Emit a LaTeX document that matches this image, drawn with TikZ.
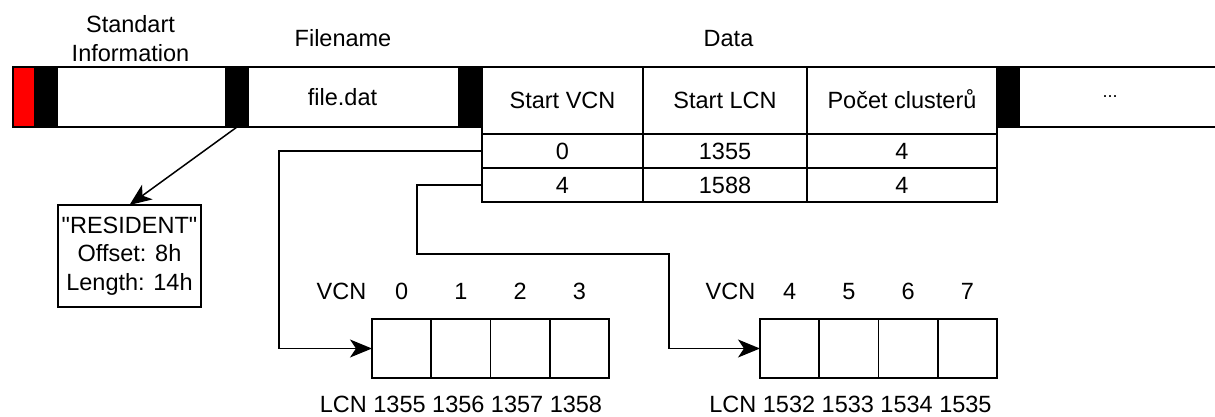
\documentclass[tikz,border=0pt]{standalone}
\usepackage{fontspec}
\setmainfont{Liberation Sans}[Ligatures=TeXOff]
\usetikzlibrary{arrows.meta}
\begin{document}
\begin{tikzpicture}[x=1pt,y=-1pt,
  every node/.style={inner sep=0pt, outer sep=0pt, font=\fontsize{23.5}{28.5}\selectfont},
  seg/.style={draw, line width=1.5pt, fill=white, minimum height=60pt},
  hdr/.style={draw, line width=1.5pt, fill=black, minimum width=22pt, minimum height=60pt},
  cell/.style={draw, line width=1.5pt, fill=white, text height=16.9pt, text depth=0pt},
  blockcell/.style={draw, line width=1.5pt, minimum width=59.25pt, minimum height=59pt},
  lbl/.style={anchor=base},
  conn/.style={line width=1.5pt},
  arr/.style={conn, -{Stealth[length=22pt,width=18pt,inset=6pt]}},
]
\useasboundingbox (0,0) rectangle (1215,417);

% record bar
\node[seg, fill=red, minimum width=22pt] (rec) at (24,97) {};
\node[seg, minimum width=191pt] (si) at (130.5,97) {};
\node[hdr] (sih) at (46,97) {};
\node[seg, minimum width=233pt] (fn) at (342.5,97) {file.dat};
\node[hdr] (fnh) at (237,97) {};
\node[seg, minimum width=226pt] (more) at (1110,97) {\fontsize{18}{20}\selectfont ...};
\node[hdr] (dah) at (470.5,97) {};
\node[hdr] (moreh) at (1008,97) {};

% labels above
\node[align=center] (lsi) at (130.5,38.5) {Standart\\Information};
\node[lbl] (lfn) at (343,47) {Filename};
\node[lbl] (lda) at (728.5,47) {Data};

% data run table
\node[cell, minimum width=161pt, minimum height=67pt] (h1) at (562.5,100.5) {Start VCN};
\node[cell, minimum width=164pt, minimum height=67pt] (h2) at (725,100.5) {Start LCN};
\node[cell, minimum width=190pt, minimum height=67pt] (h3) at (902,100.5) {Počet clusterů};
\node[cell, minimum width=161pt, minimum height=34pt] (r1a) at (562.5,151) {0};
\node[cell, minimum width=164pt, minimum height=34pt] (r1b) at (725,151) {1355};
\node[cell, minimum width=190pt, minimum height=34pt] (r1c) at (902,151) {4};
\node[cell, minimum width=161pt, minimum height=34pt] (r2a) at (562.5,185) {4};
\node[cell, minimum width=164pt, minimum height=34pt] (r2b) at (725,185) {1588};
\node[cell, minimum width=190pt, minimum height=34pt] (r2c) at (902,185) {4};

% resident box
\node[draw, line width=1.5pt, minimum width=143pt, minimum height=102pt, align=center] (res) at (129.5,256) {"RESIDENT"\\Offset: 8h\\Length: 14h};

% cluster blocks
\node[blockcell] (c10) at (401.6,348.5) {};
\node[blockcell] (c11) at (460.9,348.5) {};
\node[blockcell] (c12) at (520.1,348.5) {};
\node[blockcell] (c13) at (579.4,348.5) {};
\node[blockcell] (c20) at (789.6,348.5) {};
\node[blockcell] (c21) at (848.9,348.5) {};
\node[blockcell] (c22) at (908.1,348.5) {};
\node[blockcell] (c23) at (967.4,348.5) {};

% VCN labels
\node[lbl] (v1) at (341.5,299) {VCN};
\node[lbl] (v10) at (401.6,299) {0};
\node[lbl] (v11) at (460.9,299) {1};
\node[lbl] (v12) at (520.1,299) {2};
\node[lbl] (v13) at (579.4,299) {3};
\node[lbl] (v2) at (730.5,299) {VCN};
\node[lbl] (v20) at (789.6,299) {4};
\node[lbl] (v21) at (848.9,299) {5};
\node[lbl] (v22) at (908.1,299) {6};
\node[lbl] (v23) at (967.4,299) {7};

% LCN labels
\node[lbl] (l1) at (461,412) {LCN 1355 1356 1357 1358};
\node[lbl] (l2) at (850.5,412) {LCN 1532 1533 1534 1535};

% connectors
\draw[arr] (fnh.south) -- (res.north);
\draw[arr] (r1a.west) -- ++(-203,0) |- (c10.west);
\draw[arr] (r2a.west) -- ++(-65,0) -- ++(0,69) -- ++(252,0) |- (c20.west);
\end{tikzpicture}
\end{document}
